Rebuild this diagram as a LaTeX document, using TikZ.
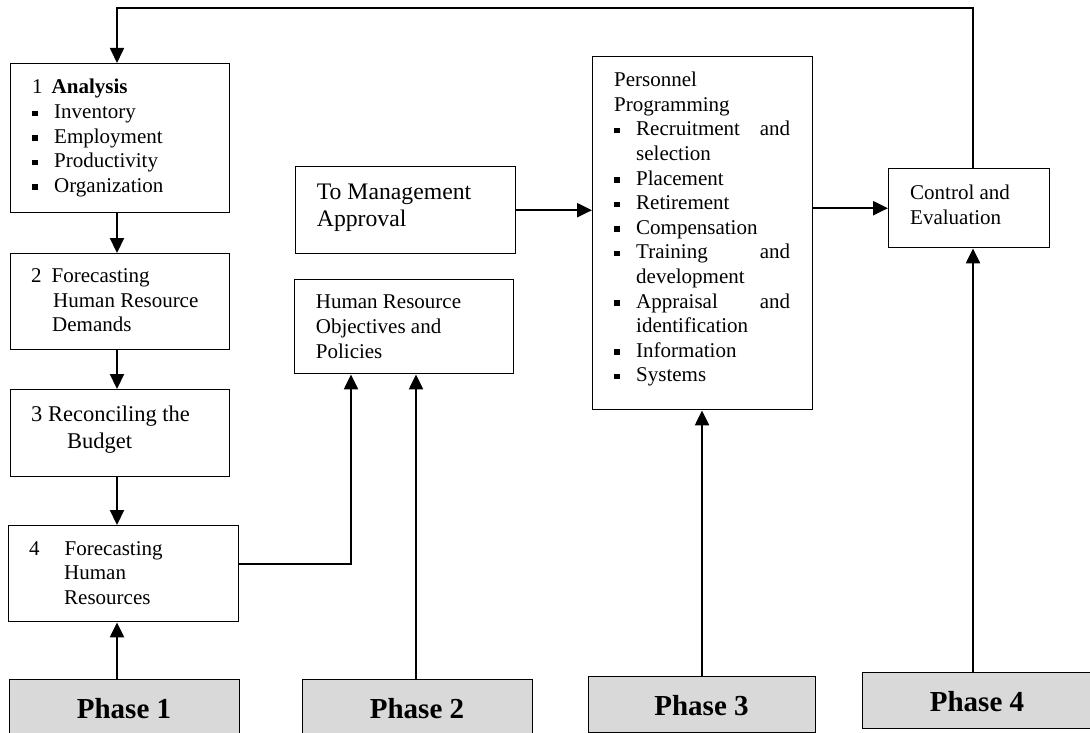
\documentclass[tikz,border=0pt]{standalone}
\usepackage{fontspec}
\setmainfont{Liberation Serif}
\usetikzlibrary{arrows.meta}
\definecolor{phasegray}{RGB}{217,217,217}
\newcommand{\bsq}{\makebox[22pt][l]{\rule[2.5pt]{5.5pt}{5.5pt}}}
\newcommand{\spread}[2]{\makebox[154pt][l]{#1\hfill #2}}
\begin{document}
\begin{tikzpicture}[x=1pt,y=-1pt,
  box/.style={draw, line width=1.4pt, inner sep=0pt, anchor=north west},
  phasebox/.style={draw, line width=1.4pt, fill=phasegray, inner sep=0pt, anchor=north west},
  txt/.style={anchor=base west, inner sep=0pt, font=\fontsize{21}{24.6}\selectfont},
  ptxt/.style={anchor=base, inner sep=0pt, font=\fontsize{29}{32}\selectfont\bfseries},
  conn/.style={line width=2.2pt},
  arr/.style={conn, -{Triangle[length=15pt,width=14pt]}},
  fbarr/.style={line width=1.7pt, -{Triangle[length=15pt,width=14pt]}}
  ]
\useasboundingbox (0,0) rectangle (1090,733);
\clip (0,0) rectangle (1090,733);

% boxes
\node[box, minimum width=219pt, minimum height=149pt] (b1) at (10,63) {};
\node[box, minimum width=219pt, minimum height=96pt] (b2) at (10,253) {};
\node[box, minimum width=219pt, minimum height=87pt] (b3) at (10,389) {};
\node[box, minimum width=230pt, minimum height=96pt] (b4) at (8,525) {};
\node[box, minimum width=220pt, minimum height=87pt] (mg) at (295,166) {};
\node[box, minimum width=219pt, minimum height=94pt] (hr) at (294,279) {};
\node[box, minimum width=220pt, minimum height=353pt] (pp) at (592,56) {};
\node[box, minimum width=161pt, minimum height=79pt] (ce) at (888,168) {};

% phase boxes
\node[phasebox, minimum width=230pt, minimum height=70pt] (ph1) at (9,679) {};
\node[phasebox, minimum width=230pt, minimum height=70pt] (ph2) at (302,679) {};
\node[phasebox, minimum width=227pt, minimum height=56pt] (ph3) at (588,676) {};
\node[phasebox, minimum width=240pt, minimum height=56pt] (ph4) at (862,672) {};

% texts
\node[txt] (t1) at (32,94) {\begin{tabular}[t]{@{}l@{}}1\hspace{9pt}\textbf{Analysis}\\
\bsq Inventory\\ \bsq Employment\\ \bsq Productivity\\ \bsq Organization\end{tabular}};
\node[txt] (t2) at (31,282.7) {\begin{tabular}[t]{@{}l@{}}2\hspace{10pt}Forecasting\\
\hspace*{22pt}Human Resource\\ \hspace*{21pt}Demands\end{tabular}};
\node[txt, font=\fontsize{22.5}{26.5}\selectfont] (t3) at (31,421.7) {\begin{tabular}[t]{@{}l@{}}3 Reconciling the\\
\hspace*{36pt}Budget\end{tabular}};
\node[txt] (t4) at (29,555) {\begin{tabular}[t]{@{}l@{}}4\hspace{25pt}Forecasting\\
\hspace*{35pt}Human\\ \hspace*{35pt}Resources\end{tabular}};
\node[txt, font=\fontsize{23.7}{27.7}\selectfont] (tm) at (316.7,199) {\begin{tabular}[t]{@{}l@{}}To Management\\ Approval\end{tabular}};
\node[txt, font=\fontsize{21}{25}\selectfont] (th) at (315.7,308.3) {\begin{tabular}[t]{@{}l@{}}Human Resource\\ Objectives and\\ Policies\end{tabular}};
\node[txt] (tp) at (614,86.7) {\begin{tabular}[t]{@{}l@{}}Personnel\\ Programming\\
\bsq\spread{Recruitment}{and}\\ \hspace*{22pt}selection\\
\bsq Placement\\ \bsq Retirement\\ \bsq Compensation\\
\bsq\spread{Training}{and}\\ \hspace*{22pt}development\\
\bsq\spread{Appraisal}{and}\\ \hspace*{22pt}identification\\
\bsq Information\\ \bsq Systems\end{tabular}};
\node[txt, font=\fontsize{21}{25.3}\selectfont] (tc) at (910,199) {\begin{tabular}[t]{@{}l@{}}Control and\\ Evaluation\end{tabular}};

\node[ptxt] (p1) at (124,718) {Phase 1};
\node[ptxt] (p2) at (417,718) {Phase 2};
\node[ptxt] (p3) at (701.5,715) {Phase 3};
\node[ptxt] (p4) at (977,711) {Phase 4};

% helper coordinates
\coordinate (c1) at (117,0);
\coordinate (c2) at (351,0);
\coordinate (c3) at (416,0);
\coordinate (c4) at (702,0);
\coordinate (c5) at (973,0);
\coordinate (y564) at (0,564);
\coordinate (ytop) at (0,8);

% connectors
\draw[arr] (b1.south -| c1) -- (b2.north -| c1);
\draw[arr] (b2.south -| c1) -- (b3.north -| c1);
\draw[arr] (b3.south -| c1) -- (b4.north -| c1);
\draw[arr] (ph1.north -| c1) -- (b4.south -| c1);
\draw[arr] (b4.east |- y564) -| (hr.south -| c2);
\draw[arr] (ph2.north -| c3) -- (hr.south -| c3);
\draw[arr] (mg.east) -- (mg.east -| pp.west);
\draw[arr] (pp.east |- ce.west) -- (ce.west);
\draw[arr] (ph3.north -| c4) -- (pp.south -| c4);
\draw[arr] (ph4.north -| c5) -- (ce.south -| c5);
\draw[fbarr] (ce.north -| c5) -- (c5 |- ytop) -| (b1.north -| c1);
\end{tikzpicture}
\end{document}
